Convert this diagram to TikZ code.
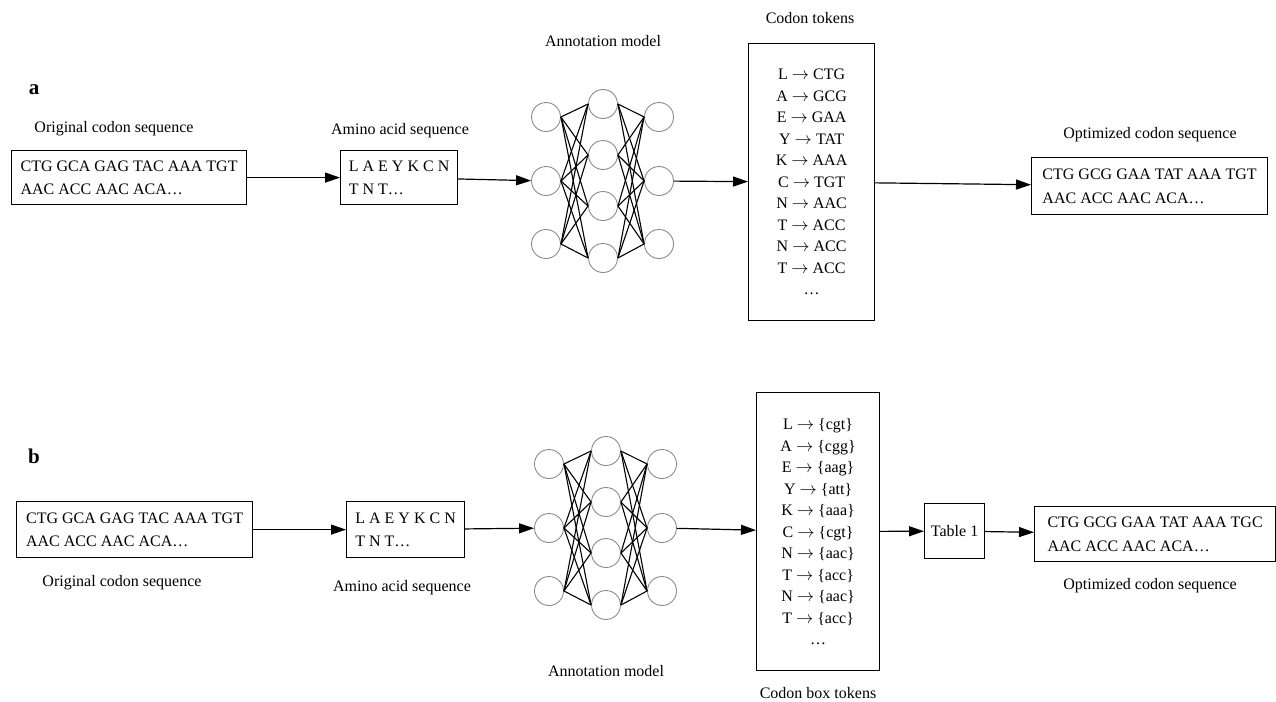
\documentclass[tikz,border=0pt]{standalone}
\usepackage{fontspec}
\setmainfont{Liberation Serif}
\usetikzlibrary{arrows.meta}

\begin{document}
\begin{tikzpicture}[x=1pt, y=-1pt, font=\fontsize{16}{23.5}\selectfont,
  seqbox/.style={draw, line width=1.2pt, anchor=north west, align=left, inner sep=0pt},
  tokbox/.style={draw, line width=1.2pt, anchor=north west, align=center, inner sep=0pt, font=\fontsize{16}{21.5}\selectfont},
  neuron/.style={circle, draw=black!45, line width=0.9pt, minimum size=29pt, inner sep=0pt},
  link/.style={line width=1.1pt},
  flow/.style={line width=1.2pt, -{Triangle[length=15pt, width=10pt]}},
  panel/.style={font=\fontsize{21}{24}\selectfont\bfseries}]
\fill[white] (0,0) rectangle (1276,701);
\useasboundingbox (0,0) rectangle (1276,701);

% the two annotation networks
\foreach \p/\cx/\cy in {a/546/181, b/549/528} {
  \foreach \i/\dy in {1/-64, 2/0, 3/63} {
    \node[neuron] (\p-in\i) at ({\cx}, {\cy+(\dy)}) {};
    \node[neuron] (\p-out\i) at ({\cx+113}, {\cy+(\dy)}) {};
  }
  \foreach \j/\dy in {1/-77, 2/-26, 3/25, 4/77}
    \node[neuron] (\p-hid\j) at ({\cx+57}, {\cy+(\dy)}) {};
  \foreach \i in {1,2,3}
    \foreach \j in {1,...,4} {
      \draw[link] (\p-in\i.east) -- (\p-hid\j.west);
      \draw[link] (\p-hid\j.east) -- (\p-out\i.west);
    }
}

% panel a
\node[panel] (lbl-a) at (34,90) {a};
\node (orig-lbl-a) at (114,129) {Original codon sequence};
\node[seqbox, minimum width=235pt, minimum height=54pt] (seq-a) at (11,150) {CTG GCA GAG TAC AAA TGT\\AAC ACC AAC ACA…};
\node (aa-lbl-a) at (400,131) {Amino acid sequence};
\node[seqbox, minimum width=117pt, minimum height=54pt] (aa-a) at (340,150) {L A E Y K C N\\T N T…};
\node (ann-lbl-a) at (603,41) {Annotation model};
\node (tok-lbl-a) at (810,18) {Codon tokens};
\node[tokbox, minimum width=126pt, minimum height=277pt] (tok-a) at (748,43)
  {L $\rightarrow$ CTG\\A $\rightarrow$ GCG\\E $\rightarrow$ GAA\\Y $\rightarrow$ TAT\\K $\rightarrow$ AAA\\C $\rightarrow$ TGT\\N $\rightarrow$ AAC\\T $\rightarrow$ ACC\\N $\rightarrow$ ACC\\T $\rightarrow$ ACC\\…};
\node (opt-lbl-a) at (1150,135) {Optimized codon sequence};
\node[seqbox, minimum width=236pt, minimum height=57pt] (opt-a) at (1031,157) {CTG GCG GAA TAT AAA TGT\\AAC ACC AAC ACA…};

\draw[flow] (seq-a) -- (aa-a);
\draw[flow] (aa-a) -- (a-in2);
\draw[flow] (a-out2) -- (tok-a);
\draw[flow] (tok-a) -- (opt-a);

% panel b
\node[panel] (lbl-b) at (34,456) {b};
\node[seqbox, minimum width=236pt, minimum height=56pt] (seq-b) at (16,501) {CTG GCA GAG TAC AAA TGT\\AAC ACC AAC ACA…};
\node (orig-lbl-b) at (122,583) {Original codon sequence};
\node[seqbox, minimum width=118pt, minimum height=56pt] (aa-b) at (346,501) {L A E Y K C N\\T N T…};
\node (aa-lbl-b) at (402,588) {Amino acid sequence};
\node (ann-lbl-b) at (606,671) {Annotation model};
\node[tokbox, minimum width=123pt, minimum height=278pt] (tok-b) at (756,392)
  {L $\rightarrow$ \{cgt\}\\A $\rightarrow$ \{cgg\}\\E $\rightarrow$ \{aag\}\\Y $\rightarrow$ \{att\}\\K $\rightarrow$ \{aaa\}\\C $\rightarrow$ \{cgt\}\\N $\rightarrow$ \{aac\}\\T $\rightarrow$ \{acc\}\\N $\rightarrow$ \{aac\}\\T $\rightarrow$ \{acc\}\\…};
\node (tok-lbl-b) at (818,693) {Codon box tokens};
\node[seqbox, align=center, minimum width=60pt, minimum height=55pt] (tab) at (924,503) {Table 1};
\node[seqbox, minimum width=241pt, minimum height=55pt] (opt-b) at (1034,506) {CTG GCG GAA TAT AAA TGC\\AAC ACC AAC ACA…};
\node (opt-lbl-b) at (1150,586) {Optimized codon sequence};

\draw[flow] (seq-b) -- (aa-b);
\draw[flow] (aa-b) -- (b-in2);
\draw[flow] (b-out2) -- (tok-b);
\draw[flow] (tok-b) -- (tab);
\draw[flow] (tab) -- (opt-b);
\end{tikzpicture}
\end{document}
